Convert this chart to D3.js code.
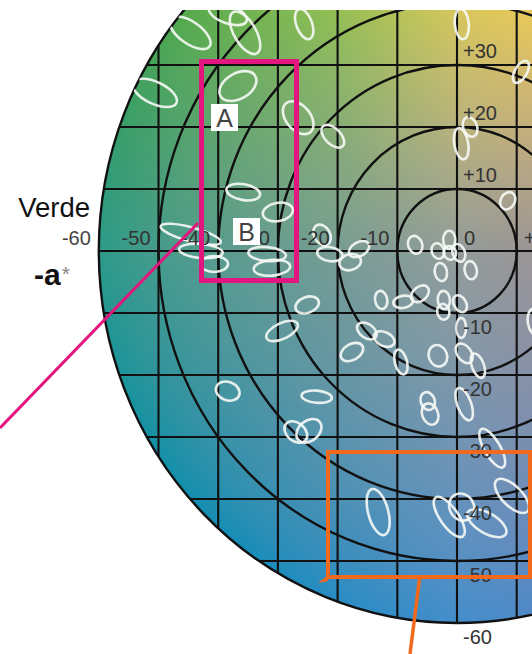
<!DOCTYPE html>
<html>
<head>
<meta charset="utf-8">
<script src="https://cdn.jsdelivr.net/npm/d3@7"></script>
<style>
  html, body { margin: 0; padding: 0; background: #fff; }
  svg { display: block; }
</style>
</head>
<body>
<script>
// CIELAB a*b* plane: tolerance ellipses measured around colour targets.

// Grid and ring values (a*, b* units)
const gridValues = [-60, -50, -40, -30, -20, -10, 0, 10, 20, 30, 40, 50, 60];
const ringRadii = [10, 20, 30, 40, 50, 60];

// Tick labels on the a* axis and on the b* axis
const aTicks = [-60, -50, -40, -30, -20, -10, 0, 10];
const aTickLabels = ["-60", "-50", "-40", "-30", "-20", "-10", "0", "+10"];
const bTicks = [30, 20, 10, -10, -20, -30, -40, -50, -60];
const bTickLabels = ["+30", "+20", "+10", "-10", "-20", "-30", "-40", "-50", "-60"];

// Ellipses: centre (a*, b*), semi-axes (ΔE units) and orientation (degrees from +a*)
const ellA     = [-44.7, -35.5, -38.4, -50.6, -36.7, -25.6, -26.6, -20.8, 0.8, 10.7, 2.2, 0.7, 8.5, -35.8, -30.0, -44.6, -42.9, -40.7, -31.8, -31.0, -22.6, -21.3, -17.9, -16.4, -7.0, -3.2, -1.3, -1.2, 0.3, -2.7, 2.3, -12.7, -9.0, -6.2, -2.2, -2.3, 0.5, 0.7, -15.1, -12.2, -29.3, -25.1, -17.6, -9.4, -3.2, 1.2, 3.5, -23.5, -4.9, -4.5, 1.2, -27.0, -24.8, 5.9, -13.2, -1.3, 0.8, 5.0, 9.2, 13.2, -38.4];
const ellB     = [35.2, 35.2, 38.2, 25.5, 26.6, 36.6, 21.5, 18.5, 36.6, 28.9, 20.0, 17.3, 8.1, 9.5, 6.3, 2.7, 0.0, -2.1, -0.5, -2.7, 2.6, -0.5, -1.8, 0.3, 1.0, 0.0, 1.8, -0.3, -0.3, -3.4, -3.1, -7.9, -8.2, -6.9, -7.9, -9.8, -8.5, -12.4, -12.9, -14.2, -12.9, -8.7, -16.3, -17.9, -16.9, -16.5, -18.5, -23.5, -24.2, -26.3, -24.7, -29.2, -29.0, -31.8, -42.1, -42.9, -41.3, -43.9, -39.5, -11.5, -22.6];
const ellMajor = [3.9, 3.9, 3.3, 3.9, 3.3, 2.6, 3.1, 2.3, 2.5, 2.0, 1.65, 2.6, 1.5, 2.8, 2.5, 5.1, 3.6, 2.3, 3.1, 3.0, 1.8, 2.1, 1.8, 1.8, 1.5, 1.3, 1.5, 1.15, 1.5, 1.5, 1.5, 1.5, 1.65, 1.65, 1.5, 1.3, 1.5, 1.65, 1.8, 1.8, 2.8, 2.0, 2.0, 2.1, 1.8, 1.8, 2.1, 2.5, 1.5, 1.8, 2.8, 2.1, 2.3, 3.6, 3.9, 3.9, 2.3, 3.6, 3.6, 2.3, 2.0];
const ellMinor = [1.8, 1.8, 1.5, 1.8, 2.1, 1.3, 2.0, 1.3, 1.15, 1.0, 1.15, 1.15, 1.15, 1.3, 1.5, 1.15, 1.15, 1.3, 1.15, 1.3, 1.3, 1.15, 1.3, 1.15, 1.15, 1.0, 1.0, 1.0, 1.0, 1.0, 1.0, 1.0, 1.0, 1.15, 1.0, 1.0, 1.0, 0.8, 1.15, 1.15, 1.3, 1.3, 1.3, 1.0, 1.5, 1.15, 1.0, 1.0, 1.15, 1.3, 1.15, 1.5, 1.65, 1.3, 1.65, 1.5, 2.0, 1.65, 1.65, 1.3, 1.5];
const ellAngle = [-35, -60, -20, -25, 30, -70, -50, -45, -85, 60, -70, -80, 60, -10, 10, -15, -5, 0, -5, 5, -60, -10, 15, 30, -70, -70, 90, -70, -70, -80, -80, -80, 10, 40, -85, -80, -60, 90, -35, -25, 25, 20, 30, -75, -70, -55, -70, -5, -70, -70, -70, -40, 40, -60, -75, -55, -60, -30, -45, -80, -20];

// Letters of the highlighted groups
const boxNames = ["A", "B"];

const W = 532, H = 654;
const cx = 457, cy = 251;
const x = d3.scaleLinear().domain([-60, 60]).range([cx - 358.2, cx + 358.2]);
const y = d3.scaleLinear().domain([-60, 60]).range([cy + 372, cy - 372]);
const pxPerUnit = (x(1) - x(0) + y(0) - y(1)) / 2;
const topCut = 10;

const svg = d3.select("body").append("svg")
  .attr("width", W).attr("height", H)
  .attr("font-family", "'Liberation Sans', Arial, sans-serif");

const defs = svg.append("defs");
defs.append("clipPath").attr("id", "disc")
  .append("ellipse")
  .attr("cx", x(0)).attr("cy", y(0))
  .attr("rx", x(60) - x(0)).attr("ry", y(-60) - y(0));
defs.append("clipPath").attr("id", "cut")
  .append("rect").attr("x", 0).attr("y", topCut).attr("width", W).attr("height", H - topCut);

// Approximate (softened) colour of the a*b* plane at a given position
function planeColor(a, b) {
  const reach = Math.max(0, 1 + a / 60);
  const greenPull = Math.min(1, Math.max(0, -a / 20));
  const blueFade = 1 - 0.45 * Math.max(0, -b) / 60;
  const L = 63.5 + (b > 0 ? 0.42 * b * reach : 0.12 * b) - 0.1 * Math.abs(a);
  const A = 0.52 * a * blueFade - 4 - (b > 0 ? 0.35 * b * greenPull : 0.08 * (-b));
  const B = b > 0 ? b * (0.9 + 0.5 * reach) : 0.66 * b;
  return d3.rgb(d3.lab(L, A, B));
}

// Paint the coloured plane into a canvas, then place it in the SVG
const canvas = document.createElement("canvas");
canvas.width = W; canvas.height = H;
const ctx = canvas.getContext("2d");
const img = ctx.createImageData(W, H);
for (let py = 0; py < H; py++) {
  const b = y.invert(py + 0.5);
  for (let px = 0; px < W; px++) {
    const a = x.invert(px + 0.5);
    if (a * a + b * b > 61 * 61) continue;
    const c = planeColor(a, b);
    const i = (py * W + px) * 4;
    img.data[i] = c.r; img.data[i + 1] = c.g; img.data[i + 2] = c.b; img.data[i + 3] = 255;
  }
}
ctx.putImageData(img, 0, 0);

const plane = svg.append("g").attr("clip-path", "url(#cut)");
const inner = plane.append("g").attr("clip-path", "url(#disc)");
inner.append("image")
  .attr("href", canvas.toDataURL())
  .attr("x", 0).attr("y", 0).attr("width", W).attr("height", H);

// Rectangular grid
inner.append("g").selectAll("line").data(gridValues).join("line")
  .attr("x1", d => x(d)).attr("x2", d => x(d))
  .attr("y1", y(60)).attr("y2", y(-60))
  .attr("stroke", "#111").attr("stroke-width", 2.1);
inner.append("g").selectAll("line").data(gridValues).join("line")
  .attr("y1", d => y(d)).attr("y2", d => y(d))
  .attr("x1", x(-60)).attr("x2", x(60))
  .attr("stroke", "#111").attr("stroke-width", 2.1);

// Chroma rings
plane.append("g").selectAll("ellipse").data(ringRadii).join("ellipse")
  .attr("cx", x(0)).attr("cy", y(0))
  .attr("rx", d => x(d) - x(0)).attr("ry", d => y(-d) - y(0))
  .attr("fill", "none").attr("stroke", "#111").attr("stroke-width", 2.4);

// Tick labels
const tickG = svg.append("g").attr("font-size", 20).attr("fill", "#333");
tickG.selectAll("text.a").data(aTicks).join("text")
  .attr("x", d => d < 0 ? x(d) - 8 : x(d) + 7)
  .attr("y", y(0) - 6)
  .attr("text-anchor", d => d < 0 ? "end" : "start")
  .attr("fill", d => d === -60 ? "#444" : "#333")
  .text((d, i) => aTickLabels[i]);
tickG.selectAll("text.b").data(bTicks).join("text")
  .attr("x", x(0) + 6)
  .attr("y", d => d > 0 ? y(d) - 7 : y(d) + 21)
  .text((d, i) => bTickLabels[i]);

// Axis name
svg.append("text").attr("x", 90).attr("y", 217).attr("text-anchor", "end")
  .attr("font-size", 27.5).attr("fill", "#111").text("Verde");
const aName = svg.append("text").attr("x", 34).attr("y", 285);
aName.append("tspan").attr("font-size", 30).attr("font-weight", "bold").attr("fill", "#111").text("-a");
aName.append("tspan").attr("font-size", 21).attr("fill", "#888").attr("dx", 1).attr("dy", -4).text("*");

// Tolerance ellipses
plane.append("g").attr("clip-path", "url(#disc)")
  .selectAll("ellipse").data(ellA.map((a, i) => i)).join("ellipse")
  .attr("transform", i => `translate(${x(ellA[i])},${y(ellB[i])}) rotate(${-ellAngle[i]})`)
  .attr("rx", i => ellMajor[i] * pxPerUnit)
  .attr("ry", i => ellMinor[i] * pxPerUnit)
  .attr("fill", "none")
  .attr("stroke", "rgba(246,250,246,0.9)")
  .attr("stroke-width", 2.6);

// Magenta detail box (A and B) with its leader line
const magenta = "#e3157f";
svg.append("line")
  .attr("x1", 0).attr("y1", 428).attr("x2", 198).attr("y2", 223)
  .attr("stroke", magenta).attr("stroke-width", 3);
svg.append("rect")
  .attr("x", 201.5).attr("y", 61.5).attr("width", 95).attr("height", 219)
  .attr("fill", "none").attr("stroke", magenta).attr("stroke-width", 5);

const letterBoxes = [{x: 211, y: 104}, {x: 233, y: 218}];
const lb = svg.append("g").selectAll("g").data(boxNames).join("g")
  .attr("transform", (d, i) => `translate(${letterBoxes[i].x},${letterBoxes[i].y})`);
lb.append("rect").attr("width", 27).attr("height", 27).attr("fill", "#fff");
lb.append("text").attr("x", 13.5).attr("y", 23).attr("text-anchor", "middle")
  .attr("font-size", 25).attr("fill", "#444").text(d => d);

// Orange detail box with its leader line
const orange = "#f0691c";
svg.append("rect")
  .attr("x", 328).attr("y", 452).attr("width", 202).attr("height", 125)
  .attr("fill", "none").attr("stroke", orange).attr("stroke-width", 4);
svg.append("path")
  .attr("d", "M318,583 L328,575 L328,581 Z")
  .attr("fill", orange);
svg.append("line")
  .attr("x1", 419.5).attr("y1", 579).attr("x2", 410).attr("y2", 654)
  .attr("stroke", orange).attr("stroke-width", 3.5);
</script>
</body>
</html>
